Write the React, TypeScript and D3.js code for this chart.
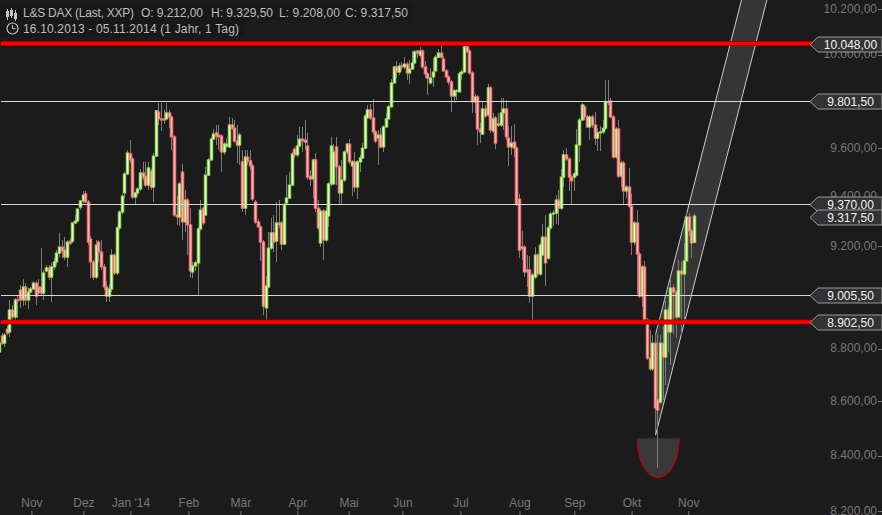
import * as d3 from "d3";

const WIDTH = 882;
const HEIGHT = 515;

// Daily candles, 16.10.2013 - 05.11.2014
const opens = [
  8783,8844,8817,8871,8860,8945,8918,8984,9023,8984,
  9035,8984,9015,9027,9050,9035,9035,9011,9098,9110,
  9074,9114,9134,9169,9193,9181,9153,9217,9217,9290,
  9298,9354,9379,9408,9375,9225,9134,9074,9213,9173,
  9114,9035,8999,9027,9161,9090,9270,9334,9412,9490,
  9573,9552,9395,9412,9428,9494,9481,9444,9502,9436,
  9564,9749,9720,9720,9720,9745,9728,9644,9322,9314,
  9498,9294,9383,9282,9094,9118,9130,9266,9350,9322,
  9485,9548,9635,9661,9652,9648,9581,9606,9602,9694,
  9681,9627,9610,9540,9350,9560,9544,9523,9375,9294,
  9274,9213,8953,9035,9189,9250,9217,9290,9290,9205,
  9371,9391,9444,9593,9569,9606,9635,9631,9606,9481,
  9469,9548,9350,9209,9338,9221,9318,9449,9449,9602,
  9519,9412,9465,9581,9614,9523,9540,9436,9540,9556,
  9597,9724,9758,9724,9665,9639,9652,9602,9686,9720,
  9771,9873,9942,9920,9946,9942,9954,9916,9933,9959,
  10011,9993,10011,9942,9912,9873,9899,9925,9984,10002,
  9976,9925,9899,9877,9817,9839,9835,9912,9920,10029,
  10011,9916,9792,9813,9677,9656,9762,9737,9852,9669,
  9724,9694,9694,9745,9762,9639,9602,9622,9597,9387,
  9189,9193,9102,9102,8999,9074,9161,9086,9161,9233,
  9149,9270,9326,9330,9383,9350,9477,9569,9552,9477,
  9477,9485,9610,9715,9771,9728,9686,9728,9694,9639,
  9661,9665,9681,9792,9796,9728,9560,9677,9481,9535,
  9420,9436,9358,9213,9290,9165,8999,9114,8906,8760,
  8719,8817,8602,8594,8817,8764,8945,8860,9031,9015,
  8918,9098,9086,9138,9314,9258,9212,
];
const closes = [
  8817,8817,8848,8856,8945,8918,8984,8980,8984,9035,
  8984,9015,9027,9050,8999,9011,9011,9090,9110,9074,
  9114,9134,9169,9193,9177,9153,9213,9209,9290,9298,
  9346,9379,9403,9375,9213,9134,9074,9201,9173,9114,
  9035,8999,9027,9161,9090,9270,9334,9399,9490,9577,
  9548,9395,9412,9428,9494,9477,9444,9515,9436,9564,
  9754,9720,9715,9715,9745,9728,9644,9322,9314,9449,
  9294,9383,9282,9098,9118,9130,9266,9342,9290,9485,
  9548,9635,9656,9648,9644,9581,9614,9614,9694,9681,
  9627,9610,9652,9350,9560,9544,9523,9387,9294,9274,
  9213,8960,9039,9189,9250,9213,9290,9282,9205,9362,
  9391,9444,9573,9569,9606,9635,9627,9622,9477,9469,
  9548,9350,9270,9338,9221,9338,9449,9606,9581,9519,
  9412,9465,9581,9614,9540,9540,9436,9540,9556,9597,
  9732,9758,9724,9665,9627,9652,9602,9686,9720,9771,
  9873,9942,9920,9946,9942,9954,9916,9933,9959,10007,
  10002,10011,9942,9912,9894,9894,9920,9984,10002,9984,
  9925,9899,9877,9817,9839,9840,9912,9920,10029,10007,
  9916,9792,9813,9677,9665,9762,9732,9852,9673,9720,
  9618,9698,9745,9762,9644,9602,9618,9597,9367,9181,
  9193,9094,9094,8999,9082,9161,9086,9201,9233,9130,
  9270,9326,9330,9383,9350,9477,9569,9552,9477,9461,
  9490,9610,9715,9779,9728,9686,9728,9694,9639,9661,
  9665,9681,9792,9788,9728,9560,9677,9481,9535,9420,
  9436,9358,9213,9290,9165,8999,9114,8906,8760,8719,
  8817,8572,8564,8817,8764,8945,8860,9031,9015,8918,
  9098,9086,9138,9314,9258,9209,9317.5,
];
const highs = [
  8829,8856,8856,8883,8984,8964,8992,8999,9043,9066,
  9050,9031,9035,9058,9058,9066,9189,9102,9122,9122,
  9130,9149,9181,9250,9221,9233,9221,9229,9294,9322,
  9350,9383,9420,9420,9383,9237,9142,9221,9221,9221,
  9126,9058,9046,9185,9169,9278,9342,9408,9498,9589,
  9631,9560,9416,9436,9510,9540,9540,9540,9510,9577,
  9758,9788,9788,9758,9788,9758,9737,9652,9399,9457,
  9531,9424,9391,9350,9134,9138,9274,9383,9358,9519,
  9556,9644,9677,9694,9694,9656,9622,9639,9728,9724,
  9715,9694,9661,9589,9589,9589,9589,9531,9383,9306,
  9282,9221,9078,9254,9310,9322,9375,9383,9298,9371,
  9485,9498,9581,9602,9652,9686,9686,9715,9661,9506,
  9552,9577,9383,9346,9346,9354,9457,9644,9614,9644,
  9527,9548,9589,9618,9635,9548,9581,9548,9569,9618,
  9741,9779,9783,9805,9673,9673,9681,9694,9745,9779,
  9890,9946,9967,9959,9963,9984,9963,9972,10011,10015,
  10015,10029,10020,9967,9920,9937,9980,9993,10020,10033,
  9989,9933,9907,9886,9847,9847,9920,9929,10038,10042,
  10020,9925,9826,9822,9703,9792,9779,9869,9860,9745,
  9732,9745,9809,9809,9800,9690,9690,9698,9606,9408,
  9258,9201,9161,9157,9090,9193,9169,9209,9286,9322,
  9278,9334,9342,9403,9424,9510,9589,9597,9560,9485,
  9498,9677,9724,9788,9779,9737,9737,9737,9749,9681,
  9690,9715,9886,9886,9809,9737,9686,9715,9544,9544,
  9444,9515,9408,9298,9342,9173,9122,9138,8914,8867,
  8848,8837,8852,8848,8879,8980,8960,9066,9046,9023,
  9142,9134,9209,9334,9330,9266,9329.5,
];
const lows = [
  8753,8810,8802,8848,8840,8906,8898,8914,8953,8960,
  8964,8949,9011,9023,8964,9003,9003,8984,9094,9062,
  8976,9102,9122,9153,9149,9142,9114,9201,9209,9286,
  9294,9342,9371,9371,9201,9070,9062,9066,9134,9102,
  9023,8976,8976,9015,9082,9082,9262,9326,9391,9485,
  9535,9387,9362,9403,9420,9465,9436,9424,9424,9375,
  9560,9694,9669,9698,9715,9681,9589,9314,9282,9278,
  9221,9254,9161,9070,9070,9098,9003,9258,9282,9318,
  9481,9544,9631,9610,9589,9498,9569,9597,9597,9673,
  9618,9535,9527,9334,9322,9527,9506,9379,9286,9270,
  9138,8925,8906,9031,9181,9173,9134,9270,9181,9201,
  9362,9387,9440,9556,9560,9602,9581,9589,9465,9440,
  9391,9334,9262,9193,9142,9213,9274,9440,9444,9444,
  9367,9367,9457,9569,9531,9399,9416,9387,9498,9552,
  9593,9720,9715,9652,9618,9527,9597,9581,9681,9715,
  9766,9869,9894,9907,9929,9933,9886,9869,9929,9954,
  9980,9984,9933,9894,9822,9865,9856,9920,9980,9976,
  9920,9894,9865,9749,9788,9800,9830,9886,9916,10002,
  9907,9745,9745,9610,9618,9652,9724,9728,9661,9661,
  9593,9686,9686,9673,9631,9523,9569,9560,9358,9149,
  9142,9074,9035,8972,8906,9066,9078,9078,9157,9039,
  9142,9262,9278,9286,9282,9342,9436,9544,9420,9367,
  9420,9481,9540,9711,9715,9681,9631,9681,9610,9585,
  9585,9656,9673,9779,9724,9552,9552,9473,9436,9362,
  9391,9350,9161,9201,9007,8992,8957,8898,8753,8711,
  8711,8564,8351,8587,8602,8658,8783,8734,8852,8837,
  8914,8848,8906,9134,9237,9149,9208,
];

const yTicks = [8200, 8400, 8600, 8800, 9000, 9200, 9400, 9600, 9800, 10000, 10200];
const monthLabels = ["Nov", "Dez", "Jan '14", "Feb", "Mär", "Apr", "Mai", "Jun", "Jul", "Aug", "Sep", "Okt", "Nov"];
const monthIndex = [12.6, 32.5, 50.5, 72.7, 92.6, 114.4, 134, 154.6, 176.8, 199.4, 220.4, 242.3, 264];

const thinLevels = [9801.5, 9370, 9005.5];
const thickLevels = [10048, 8902.5];
const lastClose = 9317.5;

// Channel drawn on the chart, index / price pairs (anchor, lower end, upper end, upper start)
const channelIndex = [251.3, 293.9, 284.2, 251.3];
const channelPrice = [8471, 10236, 10236, 8850];

// Half ellipse under the low
const bowlIndex = [244.3, 260.3];
const bowlPrice = [8460, 8316];

const x = d3.scaleLinear().domain([0, 266]).range([-1, 694]);
const y = d3.scaleLog().domain([8200, 10200]).range([510, 8]);
const fmt = d3.formatLocale({ decimal: ",", thousands: ".", grouping: [3], currency: ["", ""] }).format(",.2f");

const FONT = "'Liberation Sans', Arial, sans-serif";
const BG = "#1c1b1b";

const PriceTag = ({ value }: { value: number }) => {
  const cy = Math.round(y(value)) + 0.5;
  const pts = [[810, cy], [818, cy - 7.5], [882, cy - 7.5], [882, cy + 7.5], [818, cy + 7.5]];
  return (
    <g>
      <polygon points={pts.join(" ")} fill="#323232" stroke="#999" strokeWidth={1} />
      <text x={850.5} y={cy + 4.5} fill="#f2f2f2" fontSize={12} textAnchor="middle">
        {fmt(value)}
      </text>
    </g>
  );
};

export default function App() {
  const channel = channelIndex.map((d, i) => [x(d), y(channelPrice[i])]);
  const bowlCx = (x(bowlIndex[0]) + x(bowlIndex[1])) / 2;
  const rx = (x(bowlIndex[1]) - x(bowlIndex[0])) / 2;
  const ry = y(bowlPrice[1]) - y(bowlPrice[0]);

  return (
    <div style={{ position: "absolute", left: 0, top: 0 }}>
      <svg width={WIDTH} height={HEIGHT} style={{ display: "block", fontFamily: FONT }}>
        <rect width={WIDTH} height={HEIGHT} fill={BG} />

        {/* Y axis */}
        {yTicks.map((t) => (
          <g key={t}>
            <text x={877} y={y(t) + 4.5} fill="#777" fontSize={12} textAnchor="end">
              {fmt(t)}
            </text>
            <line x1={878} x2={882} y1={Math.round(y(t)) + 1.5} y2={Math.round(y(t)) + 1.5} stroke="#777" />
          </g>
        ))}

        {/* X axis */}
        {monthLabels.map((m, i) => (
          <g key={i}>
            <text x={x(monthIndex[i])} y={507} fill="#777" fontSize={12} textAnchor="middle">
              {m}
            </text>
            <line x1={x(monthIndex[i])} x2={x(monthIndex[i])} y1={511} y2={515} stroke="#777" />
          </g>
        ))}

        {/* Channel */}
        <polygon points={channel.join(" ")} fill="#353535" />
        <line x1={channel[0][0]} y1={channel[0][1]} x2={channel[3][0]} y2={channel[3][1]} stroke="#777" />
        <line x1={channel[0][0]} y1={channel[0][1]} x2={channel[1][0]} y2={channel[1][1]} stroke="#ccc" />
        <line x1={channel[3][0]} y1={channel[3][1]} x2={channel[2][0]} y2={channel[2][1]} stroke="#ccc" />

        {/* Bowl */}
        <path
          d={`M${bowlCx - rx},${y(bowlPrice[0])} A${rx},${ry} 0 0 0 ${bowlCx + rx},${y(bowlPrice[0])} Z`}
          fill="#383838"
          stroke="none"
        />
        <path
          d={`M${bowlCx - rx},${y(bowlPrice[0])} A${rx},${ry} 0 0 0 ${bowlCx + rx},${y(bowlPrice[0])}`}
          fill="none"
          stroke="#c00000"
          strokeWidth={1.2}
        />

        {/* Candles */}
        <g>
          {opens.map((o, i) => (
            <line
              key={i}
              x1={Math.round(x(i)) + 0.5}
              x2={Math.round(x(i)) + 0.5}
              y1={y(highs[i])}
              y2={y(lows[i])}
              stroke="#7c7c7c"
            />
          ))}
          {opens.map((o, i) => {
            const up = closes[i] >= o;
            const top = y(Math.max(o, closes[i]));
            const h = Math.abs(y(o) - y(closes[i]));
            return (
              <rect
                key={i}
                x={Math.round(x(i)) - 0.7}
                y={top}
                width={2.4}
                height={Math.max(h, 0.5)}
                fill={up ? "#f0ffe2" : "#ffb8b8"}
                stroke={up ? "#8fe84a" : "#ff7272"}
                strokeWidth={1.1}
              />
            );
          })}
        </g>

        {/* Horizontal levels */}
        <g transform="translate(0,1)">
          {thinLevels.map((v) => (
            <line key={v} x1={1} x2={812} y1={Math.round(y(v)) + 0.5} y2={Math.round(y(v)) + 0.5} stroke="#d8d8d8" />
          ))}
          {thickLevels.map((v) => (
            <g key={v}>
              <line x1={1} x2={812} y1={y(v)} y2={y(v)} stroke="#8a0000" strokeWidth={5} />
              <line x1={1} x2={812} y1={y(v)} y2={y(v)} stroke="#ff0000" strokeWidth={3.4} />
            </g>
          ))}
          {[...thickLevels, ...thinLevels, lastClose].map((v) => (
            <PriceTag key={v} value={v} />
          ))}
        </g>

        {/* Header */}
        <rect x={0} y={3} width={412} height={17} fill="#191818" />
        <rect x={0} y={20} width={245} height={17} fill="#191818" />
        <g stroke="#c4c4c4" fill="none" strokeWidth={1}>
          <path d="M7.5,9V20 M11.5,8V18 M15.5,10V21" />
          <rect x={6.5} y={11.5} width={2} height={5} />
          <rect x={10.5} y={10.5} width={2} height={5} />
          <rect x={14.5} y={13.5} width={2} height={5} />
          <circle cx={12.5} cy={28.5} r={5.5} strokeWidth={1.2} />
          <path d="M12.5,25V28.7H15.5" />
        </g>
        <g fill="#bdbdbd" fontSize={12}>
          <text x={23} y={17} textLength={111}>L&amp;S DAX (Last, XXP)</text>
          <text x={141} y={17} textLength={62}>O: {fmt(opens[266])}</text>
          <text x={211} y={17} textLength={62}>H: {fmt(highs[266])}</text>
          <text x={279} y={17} textLength={61}>L: {fmt(lows[266])}</text>
          <text x={345} y={17} textLength={63}>C: {fmt(closes[266])}</text>
          <text x={23} y={33} textLength={216}>16.10.2013 - 05.11.2014 (1 Jahr, 1 Tag)</text>
        </g>
      </svg>
    </div>
  );
}
